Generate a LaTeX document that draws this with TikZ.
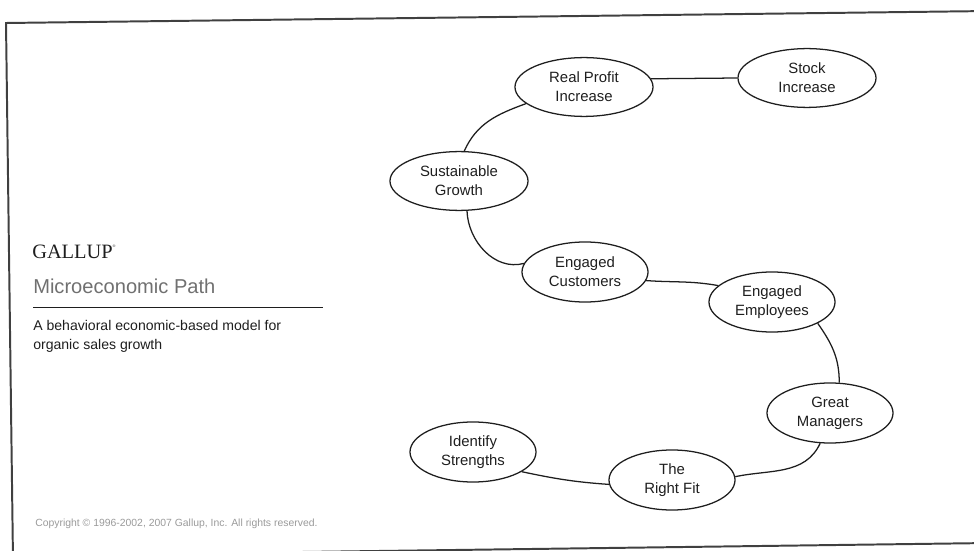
\documentclass[tikz,border=0pt]{standalone}
\usepackage{fontspec}
\setmainfont{Liberation Sans}
\newfontfamily\brandfont{Liberation Serif}
\usetikzlibrary{shapes.geometric}
\definecolor{ink}{HTML}{1E1E1E}
\definecolor{subgray}{HTML}{707070}
\definecolor{notegray}{HTML}{9A9A9A}
\begin{document}
\begin{tikzpicture}[x=0.025cm,y=-0.025cm,
  stage/.style={ellipse,draw=ink,line width=0.9pt,inner sep=0pt,
    minimum width=3.15cm,minimum height=1.5cm,align=center,
    font=\fontsize{10.6}{13.5}\selectfont,text=ink},
  widestage/.style={stage,minimum width=3.45cm,minimum height=1.47cm},
  link/.style={draw=ink,line width=0.9pt},
  frame/.style={draw=ink!85,line width=1.4pt}]
\useasboundingbox (0,0) rectangle (974,551);

% outer frame (slightly skewed border)
\draw[frame] (13,560) -- (6,23) -- (990,11);
\draw[frame] (-5,556) -- (990,543);

% title block
\node[anchor=base west,inner sep=0pt,font=\brandfont\fontsize{14.5}{16}\selectfont,text=ink] (brand) at (32,259) {GALLUP\raisebox{0.9ex}{\fontsize{4}{4}\selectfont\textsuperscript{®}}};
\node[anchor=base west,inner sep=0pt,font=\fontsize{14.3}{16}\selectfont,text=subgray] (title) at (33,293) {Microeconomic Path};
\coordinate (ruleL) at (33,307);
\coordinate (ruleR) at (323,307);
\draw[ink,line width=0.7pt] (ruleL) -- (ruleR);
\node[anchor=base west,inner sep=0pt,font=\fontsize{10}{13.5}\selectfont,text=ink] (desc) at (33,330) {A behavioral economic-based model for};
\node[anchor=base west,inner sep=0pt,font=\fontsize{10}{13.5}\selectfont,text=ink] (desc2) at (33,349) {organic sales growth};
\node[anchor=base west,inner sep=0pt,font=\fontsize{7.4}{8}\selectfont,text=notegray] (copy) at (35,526) {Copyright © 1996-2002, 2007 Gallup, Inc. All rights reserved.};

% path stages
\node[widestage] (rp) at (584,87) {Real Profit\\Increase};
\node[widestage] (st) at (807,78) {Stock\\Increase};
\node[widestage] (sg) at (459,181) {Sustainable\\Growth};
\node[stage] (ec) at (585,272) {Engaged\\Customers};
\node[stage] (ee) at (772,302) {Engaged\\Employees};
\node[stage] (gm) at (830,413) {Great\\Managers};
\node[stage] (rf) at (672,480) {The\\Right Fit};
\node[stage] (is) at (473,452) {Identify\\Strengths};

% connecting path
\draw[link] (sg.80) to[out=66,in=200] (rp.196);
\draw[link] (rp.7) -- (st.west);
\draw[link] (sg.-75) to[out=-88,in=195] (ec.172);
\draw[link] (ec.-8) to[out=-4,in=170] (ee.163);
\draw[link] (ee.-25) to[out=-55,in=90] (gm.73);
\draw[link] (gm.-108) to[out=-115,in=12] (rf.3);
\draw[link] (rf.184) to[out=176,in=-12] (is.-22);
\end{tikzpicture}
\end{document}
